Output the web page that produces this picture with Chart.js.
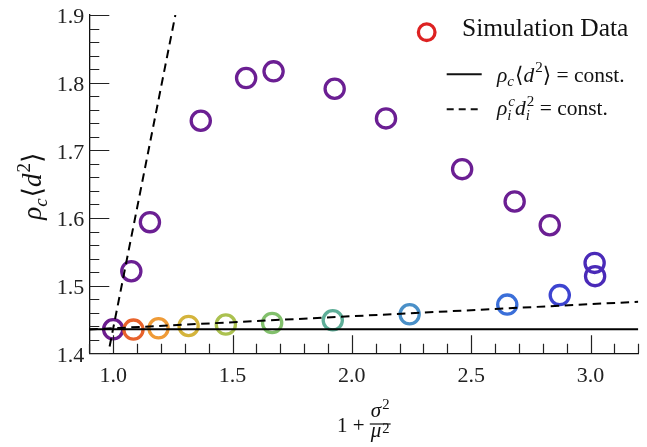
<!DOCTYPE html>
<html>
<head>
<meta charset="utf-8">
<script src="https://cdn.jsdelivr.net/npm/chart.js@4.4.0/dist/chart.umd.min.js"></script>
<style>
  html, body { margin: 0; padding: 0; background: #fff; }
  #wrap { width: 647px; height: 447px; }
</style>
</head>
<body>
<div id="wrap"><canvas id="chart"></canvas></div>
<script>
// simulation data, lower branch (stays near rho_c <d^2> = const.)
const lowerX = [1.0, 1.085, 1.19, 1.316, 1.472, 1.666, 1.92, 2.242, 2.651, 2.871, 3.019];
const lowerY = [1.4355, 1.435, 1.437, 1.4404, 1.4425, 1.4448, 1.4488, 1.4577, 1.472, 1.486, 1.514];
const lowerColors = ['#6c1d8e', '#e8632c', '#ef9b37', '#d4b43c', '#abc150', '#82c06c',
                     '#5eae98', '#4a90c8', '#3b6fd9', '#3d44d0', '#4a2ab8'];

// simulation data, upper branch
const upperX = [1.076, 1.154, 1.367, 1.557, 1.672, 1.928, 2.143, 2.462, 2.682, 2.829, 3.017];
const upperY = [1.5213, 1.5938, 1.7437, 1.8068, 1.8167, 1.791, 1.7472, 1.6722, 1.6244, 1.5893, 1.5336];
const upperColors = ['#6b1f93', '#6b1f93', '#6b1f93', '#6b1f93', '#6b1f93', '#6b1f93',
                     '#6b1f93', '#6b1f93', '#6b1f93', '#6b1f93', '#4a2ab8'];

// reference lines
const constX = [0.9, 3.2];
const constY = [1.4355, 1.4355];
const flatX = [0.9, 3.2];
const flatY = [1.4352, 1.4762];
const steepX = [0.985, 1.2605];
const steepY = [1.41, 1.9];

// axes
const xTicks = [1.0, 1.5, 2.0, 2.5, 3.0];
const yTicks = [1.4, 1.5, 1.6, 1.7, 1.8, 1.9];

const FONT = '"Liberation Serif", "DejaVu Serif", serif';
Chart.defaults.font.family = FONT;

const pts = (xs, ys) => xs.map((x, i) => ({ x: x, y: ys[i] }));

function setFont(ctx, size, italic) {
  ctx.font = (italic ? 'italic ' : '') + size + 'px ' + FONT;
}

// tiny math typesetter: items with optional sub / sup
function drawMath(ctx, items, x, y, size, draw) {
  let cx = x;
  const s2 = size * 0.7;
  for (const it of items) {
    setFont(ctx, size, it.it);
    const w = ctx.measureText(it.t).width;
    if (draw) ctx.fillText(it.t, cx, y);
    cx += w;
    let sw = 0;
    if (it.sup) {
      setFont(ctx, s2, it.supIt);
      sw = Math.max(sw, ctx.measureText(it.sup).width);
      const raise = it.raise !== undefined ? it.raise : 0.42;
      if (draw) ctx.fillText(it.sup, cx + 1, y - size * raise);
    }
    if (it.sub) {
      setFont(ctx, s2, it.subIt);
      sw = Math.max(sw, ctx.measureText(it.sub).width);
      if (draw) ctx.fillText(it.sub, cx, y + size * 0.22);
    }
    cx += sw ? sw + 1 : 0;
  }
  return cx - x;
}

// keep label overflow from shrinking the plot area
function noPad(s) {
  s.paddingLeft = 0;
  s.paddingRight = 0;
  s.paddingTop = 0;
  s.paddingBottom = 0;
}

const decor = {
  id: 'decor',
  afterDraw(chart) {
    const ctx = chart.ctx;
    const ca = chart.chartArea;
    const xs = chart.scales.x, ys = chart.scales.y;
    ctx.save();

    // inward ticks
    ctx.strokeStyle = '#222';
    ctx.lineWidth = 1.2;
    ctx.beginPath();
    for (let i = 9; i <= 32; i++) {
      const px = Math.round(xs.getPixelForValue(i / 10)) + 0.5;
      const len = i % 5 === 0 ? 18 : 9.5;
      ctx.moveTo(px, ca.bottom);
      ctx.lineTo(px, ca.bottom - len);
    }
    for (let i = 70; i <= 95; i++) {
      const py = Math.round(ys.getPixelForValue(i / 50)) + 0.5;
      const len = i % 5 === 0 ? 20 : 10;
      ctx.moveTo(ca.left, py);
      ctx.lineTo(ca.left + len, py);
    }
    ctx.stroke();

    ctx.fillStyle = '#111';
    ctx.textBaseline = 'alphabetic';
    ctx.textAlign = 'left';

    // y axis title
    const yItems = [{ t: 'ρ', it: true, sub: 'c', subIt: true }, { t: '⟨' },
                    { t: 'd', it: true, sup: '2' }, { t: '⟩' }];
    const ySize = 27;
    const yw = drawMath(ctx, yItems, 0, 0, ySize, false);
    ctx.save();
    ctx.translate(41, (ca.top + ca.bottom) / 2 + 2);
    ctx.rotate(-Math.PI / 2);
    drawMath(ctx, yItems, -yw / 2, 0, ySize, true);
    ctx.restore();

    // x axis title: 1 + sigma^2 / mu^2
    const xs2 = 21;
    setFont(ctx, xs2, false);
    const lead = '1 + ';
    const lw = ctx.measureText(lead).width;
    const num = [{ t: 'σ', it: true, sup: '2', raise: 0.4 }];
    const den = [{ t: 'μ', it: true, sup: '2', raise: 0.2 }];
    const numW = drawMath(ctx, num, 0, 0, xs2, false);
    const denW = drawMath(ctx, den, 0, 0, xs2, false);
    const fw = Math.max(numW, denW) + 2;
    const total = lw + fw;
    const x0 = (ca.left + ca.right) / 2 - total / 2;
    const barY = ca.bottom + 70.7;
    setFont(ctx, xs2, false);
    ctx.fillText(lead, x0, ca.bottom + 78.4);
    const fx = x0 + lw;
    drawMath(ctx, num, fx + (fw - numW) / 2, barY - 7, xs2, true);
    drawMath(ctx, den, fx + (fw - denW) / 2, barY + 13, xs2, true);
    ctx.fillRect(fx, barY - 0.6, fw, 1.2);

    // legend
    const lx = ca.right;
    const ty = ca.top;
    ctx.strokeStyle = '#dd2222';
    ctx.lineWidth = 3.3;
    ctx.beginPath();
    ctx.arc(lx - 211.6, ty + 17.2, 8.3, 0, Math.PI * 2);
    ctx.stroke();
    setFont(ctx, 25.5, false);
    ctx.fillText('Simulation Data', lx - 176.3, ty + 20.8);

    ctx.strokeStyle = '#111';
    ctx.lineWidth = 2;
    ctx.beginPath();
    ctx.moveTo(lx - 191.6, ty + 59.2);
    ctx.lineTo(lx - 156.6, ty + 59.2);
    ctx.stroke();
    drawMath(ctx, [{ t: 'ρ', it: true, sub: 'c', subIt: true }, { t: '⟨' },
                   { t: 'd', it: true, sup: '2' }, { t: '⟩ = const.' }],
             lx - 141.3, ty + 66.5, 21.5, true);

    ctx.setLineDash([7, 5]);
    ctx.beginPath();
    ctx.moveTo(lx - 191.6, ty + 94.2);
    ctx.lineTo(lx - 156.6, ty + 94.2);
    ctx.stroke();
    ctx.setLineDash([]);
    drawMath(ctx, [{ t: 'ρ', it: true, sup: 'c', supIt: true, sub: 'i', subIt: true },
                   { t: 'd', it: true, sup: '2', sub: 'i', subIt: true }, { t: ' = const.' }],
             lx - 141.3, ty + 100, 21.5, true);

    ctx.restore();
  }
};

const ctx = document.getElementById('chart').getContext('2d');
new Chart(ctx, {
  type: 'scatter',
  data: {
    datasets: [
      {
        label: 'Simulation Data',
        data: pts(lowerX, lowerY),
        pointRadius: 9.6,
        pointBorderWidth: 3.3,
        pointBorderColor: lowerColors,
        pointBackgroundColor: 'rgba(0,0,0,0)',
        order: 2
      },
      {
        label: 'Simulation Data (upper)',
        data: pts(upperX, upperY),
        pointRadius: 9.6,
        pointBorderWidth: 3.3,
        pointBorderColor: upperColors,
        pointBackgroundColor: 'rgba(0,0,0,0)',
        order: 2
      },
      {
        label: 'rho_c <d^2> = const.',
        data: pts(constX, constY),
        showLine: true,
        borderColor: '#000',
        borderWidth: 2,
        pointRadius: 0,
        order: 1
      },
      {
        label: 'rho_i^c d_i^2 = const.',
        data: pts(flatX, flatY),
        showLine: true,
        borderColor: '#000',
        borderWidth: 2,
        borderDash: [8.5, 5.5],
        pointRadius: 0,
        order: 1
      },
      {
        label: 'rho_i^c d_i^2 = const. (steep)',
        data: pts(steepX, steepY),
        showLine: true,
        borderColor: '#000',
        borderWidth: 2,
        borderDash: [8.5, 5.5],
        pointRadius: 0,
        order: 1
      }
    ]
  },
  options: {
    responsive: true,
    maintainAspectRatio: false,
    animation: false,
    events: [],
    layout: { autoPadding: false, padding: { top: 15, right: 8.7, left: 0, bottom: 0 } },
    plugins: {
      legend: { display: false },
      tooltip: { enabled: false }
    },
    scales: {
      x: {
        type: 'linear',
        min: 0.9,
        max: 3.2,
        afterBuildTicks: s => { s.ticks = xTicks.map(v => ({ value: v })); },
        afterFit: s => { s.height = 93.7; noPad(s); },
        ticks: {
          callback: v => Number(v).toFixed(1),
          color: '#222',
          font: { size: 22, family: FONT },
          padding: 10,
          maxRotation: 0
        },
        grid: { display: true, drawOnChartArea: false, drawTicks: false },
        border: { display: true, color: '#111', width: 1.3 }
      },
      y: {
        type: 'linear',
        min: 1.4,
        max: 1.9,
        afterBuildTicks: s => { s.ticks = yTicks.map(v => ({ value: v })); },
        afterFit: s => { s.width = 89.3; noPad(s); },
        ticks: {
          callback: v => Number(v).toFixed(1),
          color: '#222',
          font: { size: 22, family: FONT },
          padding: 5,
          labelOffset: 2.5
        },
        grid: { display: true, drawOnChartArea: false, drawTicks: false },
        border: { display: true, color: '#111', width: 1.3 }
      }
    }
  },
  plugins: [decor]
});
</script>
</body>
</html>
